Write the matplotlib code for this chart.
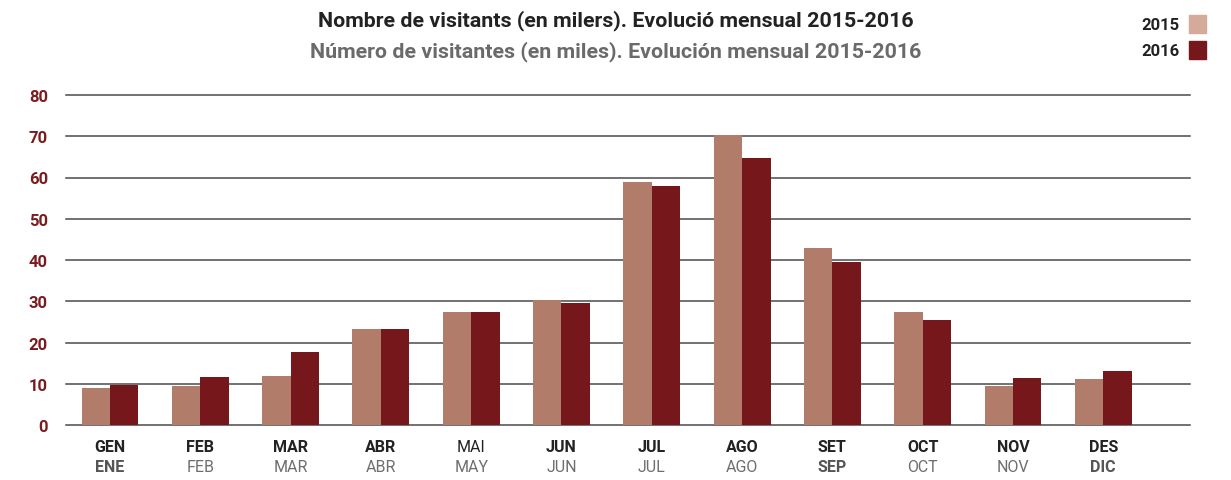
import numpy as np
import matplotlib
matplotlib.use('Agg')
import matplotlib.pyplot as plt
from matplotlib.patches import Patch

plt.rcParams['font.family'] = ['Roboto', 'DejaVu Sans']

# dades (milers de visitants)
mesos_ca = ['GEN', 'FEB', 'MAR', 'ABR', 'MAI', 'JUN', 'JUL', 'AGO', 'SET', 'OCT', 'NOV', 'DES']
mesos_es = ['ENE', 'FEB', 'MAR', 'ABR', 'MAY', 'JUN', 'JUL', 'AGO', 'SEP', 'OCT', 'NOV', 'DIC']
v2015 = [9.0, 9.5, 11.9, 23.3, 27.4, 30.3, 58.9, 70.3, 42.9, 27.4, 9.5, 11.2]
v2016 = [9.7, 11.6, 17.7, 23.3, 27.4, 29.6, 57.9, 64.7, 39.5, 25.5, 11.4, 13.1]
yticks = [0, 10, 20, 30, 40, 50, 60, 70, 80]
bold_ca = [True, True, True, True, False, True, True, True, True, True, True, True]
bold_es = [True, False, False, False, False, False, False, False, True, False, False, True]

c2015 = '#b17d6a'
c2016 = '#76181b'
c2015_leg = '#d4aa9a'
vermell = '#7a1c1f'

fig = plt.figure(figsize=(12.31, 4.81), dpi=100)
ax = fig.add_axes([66/1231, 1 - 426/481, (1190-66)/1231, (426-96)/481])

x = np.arange(len(mesos_ca))
w = 0.315
ax.bar(x - w/2, v2015, w, color=c2015, zorder=3)
ax.bar(x + w/2, v2016, w, color=c2016, zorder=3)

ax.set_xlim(-0.487, 11.96)
ax.set_ylim(0, 80)
ax.set_yticks(yticks)
ax.set_yticklabels([str(t) for t in yticks], color=vermell, fontweight='bold', fontsize=12)
ax.tick_params(axis='y', length=0, pad=13)
ax.tick_params(axis='x', length=0)
ax.set_xticks(x)
ax.set_xticklabels([])
for t in yticks:
    ax.axhline(t, color='#4a4a4a', lw=1.1, zorder=1, clip_on=False)
for s in ax.spines.values():
    s.set_visible(False)

for i in range(len(x)):
    ax.annotate(mesos_ca[i], (x[i], 0), xytext=(0, -22), textcoords='offset pixels',
                ha='center', va='center', fontsize=11.5, color='#222222',
                fontweight='bold' if bold_ca[i] else 'normal')
    ax.annotate(mesos_es[i], (x[i], 0), xytext=(0, -42), textcoords='offset pixels',
                ha='center', va='center', fontsize=11.5,
                color='#555555' if bold_es[i] else '#6e6e6e',
                fontweight='bold' if bold_es[i] else 'normal')

fig.text(0.5, 1 - 21/481, 'Nombre de visitants (en milers). Evolució mensual 2015-2016',
         ha='center', va='center', fontsize=15.4, fontweight='bold', color='#222222')
fig.text(0.5, 1 - 52/481, 'Número de visitantes (en miles). Evolución mensual 2015-2016',
         ha='center', va='center', fontsize=15.4, fontweight='bold', color='#6a6a6a')

handles = [Patch(color=c2015_leg), Patch(color=c2016)]
leg = fig.legend(handles, ['2015', '2016'], loc='upper right', bbox_to_anchor=(1221/1231, 1 - 1/481),
                 frameon=False, markerfirst=False, handlelength=1.0, handleheight=1.25,
                 handletextpad=0.6, labelspacing=0.5, prop={'weight': 'bold', 'size': 12})
for t in leg.get_texts():
    t.set_color('#222222')

fig.savefig('out.png', dpi=100)
